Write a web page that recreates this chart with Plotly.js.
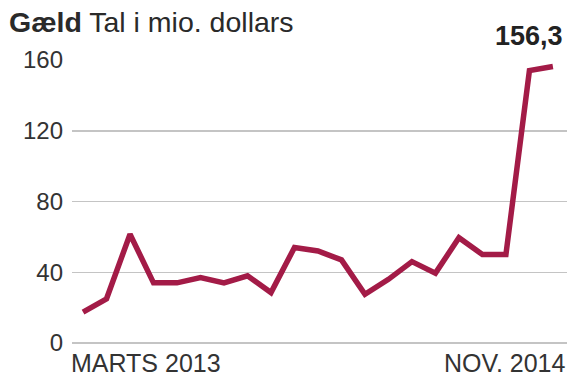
<!DOCTYPE html>
<html>
<head>
<meta charset="utf-8">
<script src="https://cdn.plot.ly/plotly-3.0.1.min.js"></script>
<style>html,body{margin:0;padding:0;background:#fff;}#chart{width:571px;height:380px;}</style>
</head>
<body>
<div id="chart"></div>
<script>
// Monthly debt, March 2013 – November 2014 (million dollars)
const months = ["2013-03","2013-04","2013-05","2013-06","2013-07","2013-08","2013-09","2013-10","2013-11","2013-12",
                "2014-01","2014-02","2014-03","2014-04","2014-05","2014-06","2014-07","2014-08","2014-09","2014-10","2014-11"];
const debt = [17.5, 25, 61.5, 34, 34, 37, 34, 38, 28.5, 54,
              52, 47, 27.5, 36, 46, 39.5, 59.5, 50, 50, 154, 156.3];
const xTickLabels = ["MARTS 2013", "NOV. 2014"];
const yTicks = [0, 40, 80, 120, 160];
const lastLabel = "156,3";

const idx = months.map((m, i) => i);
const font = "Liberation Sans, Arial, Helvetica, sans-serif";
const red = "#a31b47";

const trace = {
  x: idx, y: debt, type: "scatter", mode: "lines",
  line: {color: red, width: 5.5, shape: "linear"},
  hoverinfo: "skip"
};

const layout = {
  width: 571, height: 380,
  margin: {l: 72, r: 4, t: 60, b: 37},
  paper_bgcolor: "#fff", plot_bgcolor: "#fff",
  showlegend: false,
  title: {
    text: "<b>Gæld</b> Tal i mio. dollars",
    font: {family: font, size: 28.5, color: "#2a2a2a"},
    xref: "container", x: 9/571, xanchor: "left",
    yref: "container", y: 1 - 22/380, yanchor: "middle"
  },
  xaxis: {
    range: [-0.47, 20.6], showgrid: false, zeroline: false, showline: false,
    showticklabels: false, ticks: "", fixedrange: true
  },
  yaxis: {
    range: [0, 160], tickvals: yTicks, ticktext: yTicks.map(String),
    showgrid: true, gridcolor: "#c4c4c4", gridwidth: 1.5,
    zeroline: true, zerolinecolor: "#c4c4c4", zerolinewidth: 1.5,
    showline: false, ticks: "", ticklabelstandoff: 8,
    tickfont: {family: font, size: 24, color: "#333"}, fixedrange: true
  },
  annotations: [
    {xref: "paper", yref: "paper", x: 0, y: 0, xanchor: "left", yanchor: "top", yshift: -4, xshift: -3,
     text: xTickLabels[0], showarrow: false, font: {family: font, size: 25, color: "#333"}},
    {xref: "paper", yref: "paper", x: 1, y: 0, xanchor: "right", yanchor: "top", yshift: -4,
     text: xTickLabels[1], showarrow: false, font: {family: font, size: 25, color: "#333"}},
    {xref: "x", yref: "y", x: idx[idx.length-1], y: debt[debt.length-1], xanchor: "right", yanchor: "bottom",
     xshift: 12, yshift: 14,
     text: "<b>" + lastLabel + "</b>", showarrow: false, font: {family: font, size: 27, color: "#222"}}
  ]
};

Plotly.newPlot("chart", [trace], layout, {displayModeBar: false, staticPlot: true});
</script>
</body>
</html>
